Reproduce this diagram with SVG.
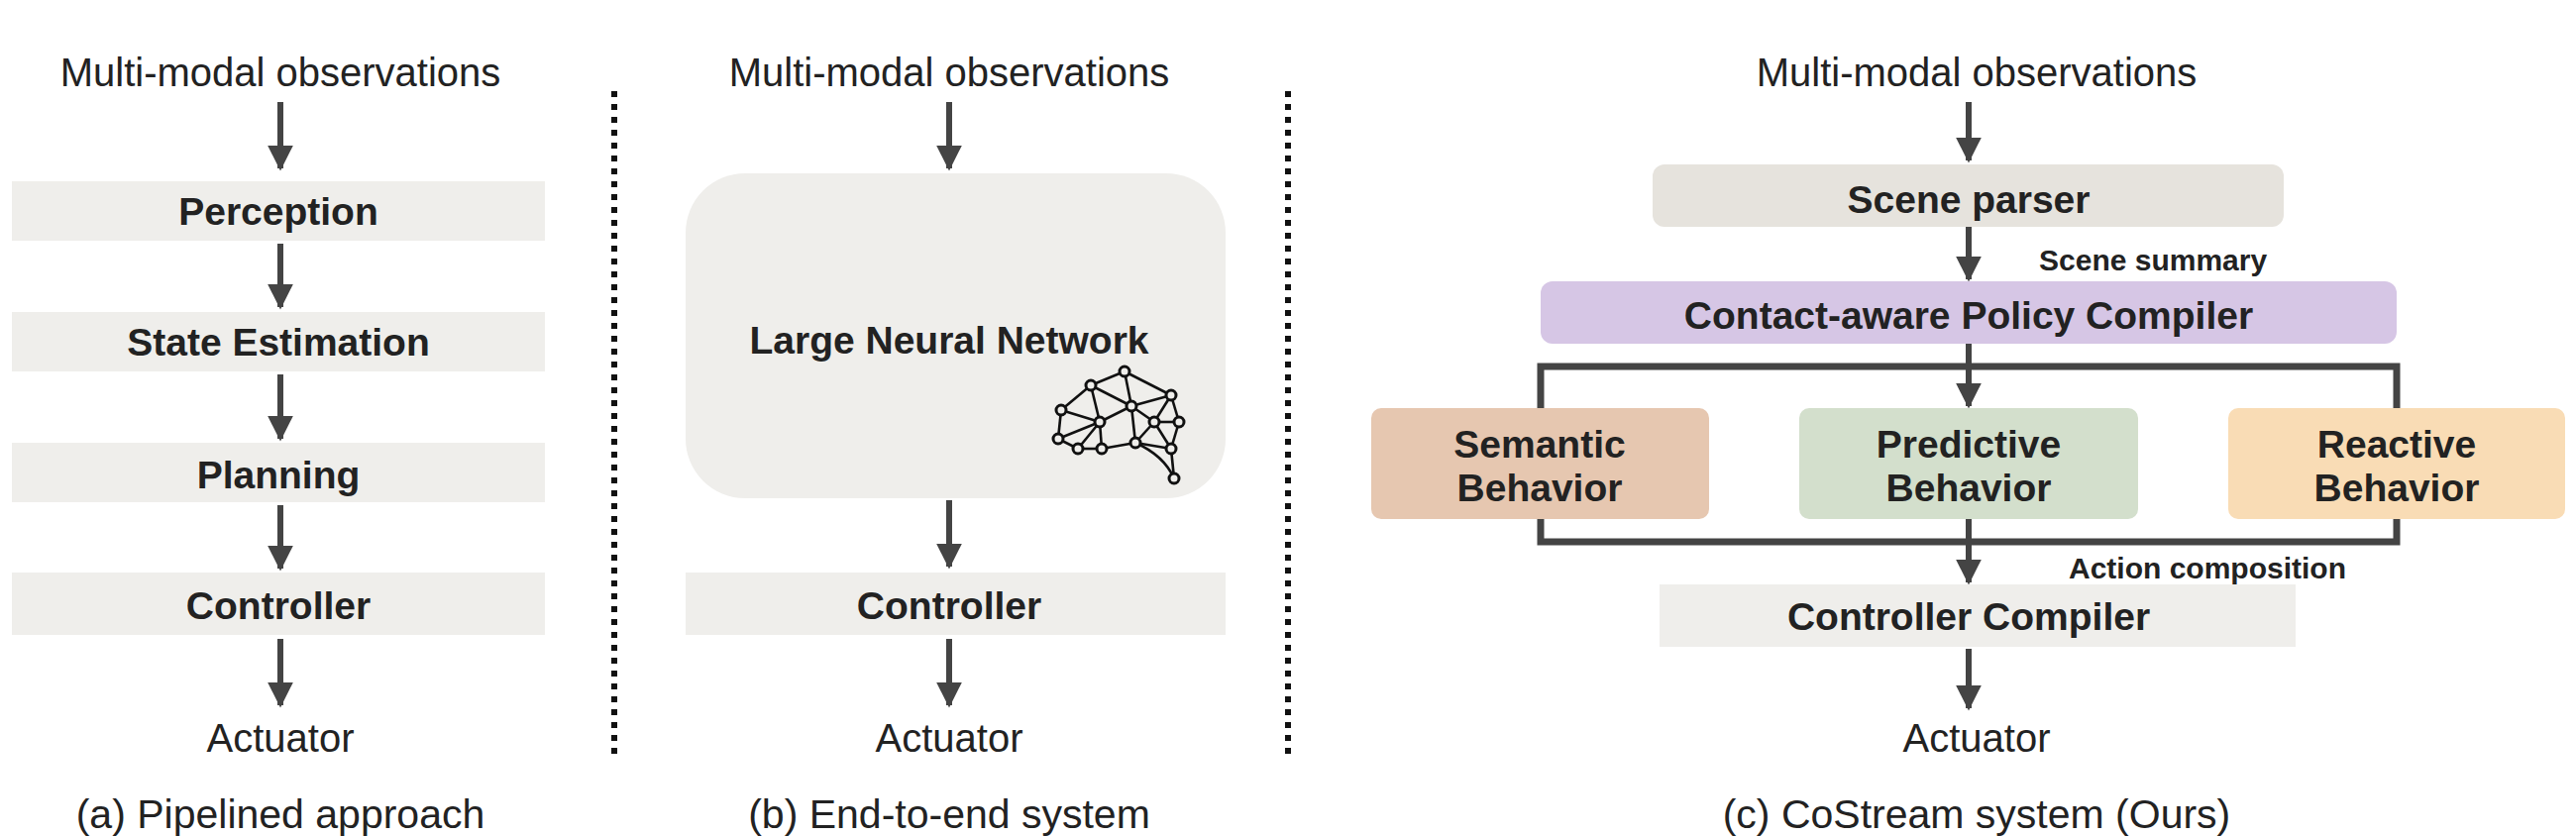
<svg xmlns="http://www.w3.org/2000/svg" width="2600" height="844" viewBox="0 0 2600 844">
<style>
text{font-family:"Liberation Sans",Arial,sans-serif;fill:#222;text-anchor:middle;dominant-baseline:central}
.t{font-size:40px}
.b{font-size:39px;font-weight:bold}
.s{font-size:30px;font-weight:bold;text-anchor:start}
.cap{font-size:41px}
.ln{stroke:#444;stroke-width:6;fill:none}
.dot{stroke:#111;stroke-width:6;stroke-dasharray:6 7}
.br{stroke:#444;stroke-width:7;fill:none}
.nn line,.nn path{stroke:#111;stroke-width:2.6;fill:none}
.nn circle{stroke:#111;stroke-width:3;fill:#efeeeb}
</style>
<defs>
<marker id="ah" viewBox="0 0 10 10" refX="9" refY="5" markerWidth="4.3" markerHeight="4.3" orient="auto"><path d="M0,0 L10,5 L0,10 z" fill="#444"/></marker>
</defs>
<rect width="2600" height="844" fill="#fff"/>
<g id="dividers">
<line class="dot" x1="620" y1="92" x2="620" y2="763"/>
<line class="dot" x1="1300" y1="92" x2="1300" y2="763"/>
</g>
<g id="connectors">
<line class="ln" x1="283" y1="103" x2="283" y2="170" marker-end="url(#ah)"/>
<line class="ln" x1="283" y1="246" x2="283" y2="310" marker-end="url(#ah)"/>
<line class="ln" x1="283" y1="378" x2="283" y2="443" marker-end="url(#ah)"/>
<line class="ln" x1="283" y1="510" x2="283" y2="574" marker-end="url(#ah)"/>
<line class="ln" x1="283" y1="645" x2="283" y2="712" marker-end="url(#ah)"/>
<line class="ln" x1="958" y1="103" x2="958" y2="170" marker-end="url(#ah)"/>
<line class="ln" x1="958" y1="505" x2="958" y2="572" marker-end="url(#ah)"/>
<line class="ln" x1="958" y1="645" x2="958" y2="712" marker-end="url(#ah)"/>
<line class="ln" x1="1987" y1="103" x2="1987" y2="162" marker-end="url(#ah)"/>
<line class="ln" x1="1987" y1="229" x2="1987" y2="282" marker-end="url(#ah)"/>
<line class="ln" x1="1987" y1="347" x2="1987" y2="410" marker-end="url(#ah)"/>
<line class="ln" x1="1987" y1="524" x2="1987" y2="588" marker-end="url(#ah)"/>
<line class="ln" x1="1987" y1="655" x2="1987" y2="715" marker-end="url(#ah)"/>
<path class="br" d="M1555,412 V370 H2419 V412"/>
<path class="br" d="M1555,524 V547 H2419 V524"/>
</g>
<g id="a-title"><text class="t" x="283" y="73">Multi-modal observations</text></g>
<g id="a-perception"><rect x="12" y="183" width="538" height="60" fill="#efeeeb"/><text class="b" x="281" y="213">Perception</text></g>
<g id="a-state"><rect x="12" y="315" width="538" height="60" fill="#efeeeb"/><text class="b" x="281" y="345">State Estimation</text></g>
<g id="a-planning"><rect x="12" y="447" width="538" height="60" fill="#efeeeb"/><text class="b" x="281" y="479">Planning</text></g>
<g id="a-controller"><rect x="12" y="578" width="538" height="63" fill="#efeeeb"/><text class="b" x="281" y="611">Controller</text></g>
<g id="a-actuator"><text class="t" x="283" y="745">Actuator</text></g>
<g id="a-caption"><text class="cap" x="283" y="822">(a) Pipelined approach</text></g>

<g id="b-title"><text class="t" x="958" y="73">Multi-modal observations</text></g>
<g id="b-network"><rect x="692" y="175" width="545" height="328" rx="60" fill="#efeeeb"/><text class="b" x="958" y="343">Large Neural Network</text>
<g class="nn" transform="translate(0,8)">
<line x1="1101" y1="381" x2="1135" y2="367"/><line x1="1135" y1="367" x2="1182" y2="391"/><line x1="1135" y1="367" x2="1142" y2="402"/>
<line x1="1101" y1="381" x2="1142" y2="402"/><line x1="1101" y1="381" x2="1071" y2="406"/><line x1="1101" y1="381" x2="1110" y2="418"/>
<line x1="1071" y1="406" x2="1110" y2="418"/><line x1="1071" y1="406" x2="1068" y2="435"/><line x1="1068" y1="435" x2="1110" y2="418"/>
<line x1="1142" y1="402" x2="1110" y2="418"/><line x1="1142" y1="402" x2="1182" y2="391"/><line x1="1142" y1="402" x2="1146" y2="439"/>
<line x1="1142" y1="402" x2="1165" y2="418"/><line x1="1182" y1="391" x2="1165" y2="418"/><line x1="1182" y1="391" x2="1190" y2="418"/>
<line x1="1165" y1="418" x2="1190" y2="418"/><line x1="1165" y1="418" x2="1182" y2="445"/><line x1="1190" y1="418" x2="1182" y2="445"/>
<line x1="1110" y1="418" x2="1088" y2="445"/><line x1="1110" y1="418" x2="1112" y2="445"/><line x1="1068" y1="435" x2="1088" y2="445"/>
<line x1="1088" y1="445" x2="1112" y2="445"/><line x1="1112" y1="445" x2="1146" y2="439"/><line x1="1146" y1="439" x2="1182" y2="445"/>
<path d="M1146,439 Q1175,452 1185,475"/><line x1="1182" y1="445" x2="1185" y2="475"/><line x1="1165" y1="418" x2="1146" y2="439"/>
<circle cx="1135" cy="367" r="5"/><circle cx="1101" cy="381" r="5"/><circle cx="1182" cy="391" r="5"/><circle cx="1071" cy="406" r="5"/>
<circle cx="1142" cy="402" r="5"/><circle cx="1110" cy="418" r="5"/><circle cx="1165" cy="418" r="5"/><circle cx="1190" cy="418" r="5"/>
<circle cx="1068" cy="435" r="5"/><circle cx="1088" cy="445" r="5"/><circle cx="1112" cy="445" r="5"/><circle cx="1146" cy="439" r="5"/>
<circle cx="1182" cy="445" r="5"/><circle cx="1185" cy="475" r="5"/>
</g></g>
<g id="b-controller"><rect x="692" y="578" width="545" height="63" fill="#efeeeb"/><text class="b" x="958" y="611">Controller</text></g>
<g id="b-actuator"><text class="t" x="958" y="745">Actuator</text></g>
<g id="b-caption"><text class="cap" x="958" y="822">(b) End-to-end system</text></g>

<g id="c-title"><text class="t" x="1995" y="73">Multi-modal observations</text></g>
<g id="c-scene"><rect x="1668" y="166" width="637" height="63" rx="12" fill="#e6e3dd"/><text class="b" x="1987" y="201">Scene parser</text></g>
<g id="c-summary"><text class="s" x="2058" y="262">Scene summary</text></g>
<g id="c-policy"><rect x="1555" y="284" width="864" height="63" rx="12" fill="#d6c6e5"/><text class="b" x="1987" y="318">Contact-aware Policy Compiler</text></g>
<g id="c-semantic"><rect x="1384" y="412" width="341" height="112" rx="10" fill="#e6c7b0"/><text class="b" x="1554" y="448">Semantic</text><text class="b" x="1554" y="492">Behavior</text></g>
<g id="c-predictive"><rect x="1816" y="412" width="342" height="112" rx="10" fill="#d3dfcc"/><text class="b" x="1987" y="448">Predictive</text><text class="b" x="1987" y="492">Behavior</text></g>
<g id="c-reactive"><rect x="2249" y="412" width="340" height="112" rx="10" fill="#f9dcb5"/><text class="b" x="2419" y="448">Reactive</text><text class="b" x="2419" y="492">Behavior</text></g>
<g id="c-action"><text class="s" x="2088" y="573">Action composition</text></g>
<g id="c-controller"><rect x="1675" y="590" width="642" height="63" fill="#efeeeb"/><text class="b" x="1987" y="622">Controller Compiler</text></g>
<g id="c-actuator"><text class="t" x="1995" y="745">Actuator</text></g>
<g id="c-caption"><text class="cap" x="1995" y="822">(c) CoStream system (Ours)</text></g>
</svg>
